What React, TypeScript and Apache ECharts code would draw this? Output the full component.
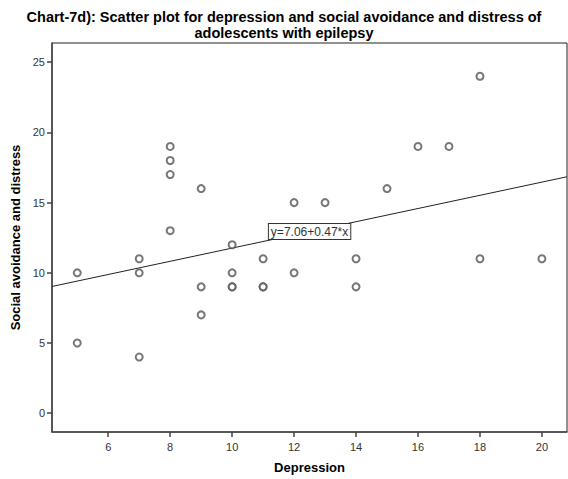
import React, { useEffect, useRef } from "react";
import * as echarts from "echarts";

const titleLines = [
  "Chart-7d): Scatter plot for depression and social avoidance and distress of",
  "adolescents with epilepsy",
];
const xAxisName = "Depression";
const yAxisName = "Social avoidance and distress";

const depression = [5, 5, 7, 7, 7, 8, 8, 8, 8, 9, 9, 9, 10, 10, 10, 10, 11, 11, 11, 12, 12, 13, 14, 14, 15, 16, 17, 18, 18, 20];
const avoidance = [10, 5, 11, 10, 4, 19, 18, 17, 13, 16, 9, 7, 12, 10, 9, 9, 11, 9, 9, 15, 10, 15, 11, 9, 16, 19, 19, 24, 11, 11];

const xTicks = [6, 8, 10, 12, 14, 16, 18, 20];
const yTicks = [0, 5, 10, 15, 20, 25];

const intercept = 7.06;
const slope = 0.47;
const fitLabel = "y=7.06+0.47*x";
const fitLabelX = 12.5;

const xMin = 4.185;
const xMax = 20.81;
const yMin = -1.34;
const yMax = 26.37;

const FONT = "'Liberation Sans', Arial, sans-serif";

export default function App() {
  const ref = useRef<HTMLDivElement>(null);
  useEffect(() => {
    if (!ref.current) return;
    const chart = echarts.init(ref.current, null, { renderer: "svg" });
    const points = depression.map((d, i) => [d, avoidance[i]]);
    const fitLine = [
      [xMin, intercept + slope * xMin],
      [xMax, intercept + slope * xMax],
    ];
    chart.setOption({
      animation: false,
      backgroundColor: "#ffffff",
      title: {
        text: titleLines.join("\n"),
        left: "center",
        top: 4,
        textStyle: {
          fontFamily: FONT,
          fontSize: 14.5,
          fontWeight: "bold",
          color: "#000",
          lineHeight: 16,
        },
      },
      grid: {
        left: 52,
        top: 43,
        right: 1,
        bottom: 43,
        show: true,
        borderColor: "#222",
        borderWidth: 1,
        containLabel: false,
      },
      xAxis: {
        type: "value",
        min: xMin,
        max: xMax,
        name: xAxisName,
        nameLocation: "middle",
        nameGap: 29,
        nameTextStyle: { fontFamily: FONT, fontSize: 13, fontWeight: "bold", color: "#000" },
        splitLine: { show: false },
        axisLine: { show: true, onZero: false, lineStyle: { color: "#444", width: 1.5 } },
        axisTick: { show: true, length: 5, lineStyle: { color: "#444", width: 1.5 }, customValues: xTicks },
        axisLabel: { fontFamily: FONT, fontSize: 11, color: "#333", margin: 9, customValues: xTicks },
      },
      yAxis: {
        type: "value",
        min: yMin,
        max: yMax,
        name: yAxisName,
        nameLocation: "middle",
        nameGap: 24,
        nameTextStyle: { fontFamily: FONT, fontSize: 13, fontWeight: "bold", color: "#000" },
        splitLine: { show: false },
        axisLine: { show: true, onZero: false, lineStyle: { color: "#444", width: 1.5 } },
        axisTick: { show: true, length: 5, lineStyle: { color: "#444", width: 1.5 }, customValues: yTicks },
        axisLabel: { fontFamily: FONT, fontSize: 11, color: "#333", margin: 7, customValues: yTicks },
      },
      series: [
        {
          type: "line",
          data: fitLine,
          symbol: "none",
          lineStyle: { color: "#222", width: 1 },
          silent: true,
          z: 1,
          markPoint: {
            symbol: "rect",
            symbolSize: 0,
            silent: true,
            data: [{ coord: [fitLabelX, intercept + slope * fitLabelX] }],
            label: {
              show: true,
              formatter: fitLabel,
              position: "inside",
              fontFamily: FONT,
              fontSize: 12,
              color: "#333",
              backgroundColor: "#fff",
              borderColor: "#333",
              borderWidth: 1,
              padding: [2, 2, 1, 2],
            },
          },
        },
        {
          type: "scatter",
          data: points,
          symbol: "emptyCircle",
          symbolSize: 7,
          itemStyle: { color: "#555", borderColor: "#444", borderWidth: 1 },
          z: 2,
        },
      ],
    });
    return () => chart.dispose();
  }, []);
  return (
    <div
      ref={ref}
      style={{ position: "fixed", left: 0, top: 0, width: 568, height: 479 }}
    />
  );
}
